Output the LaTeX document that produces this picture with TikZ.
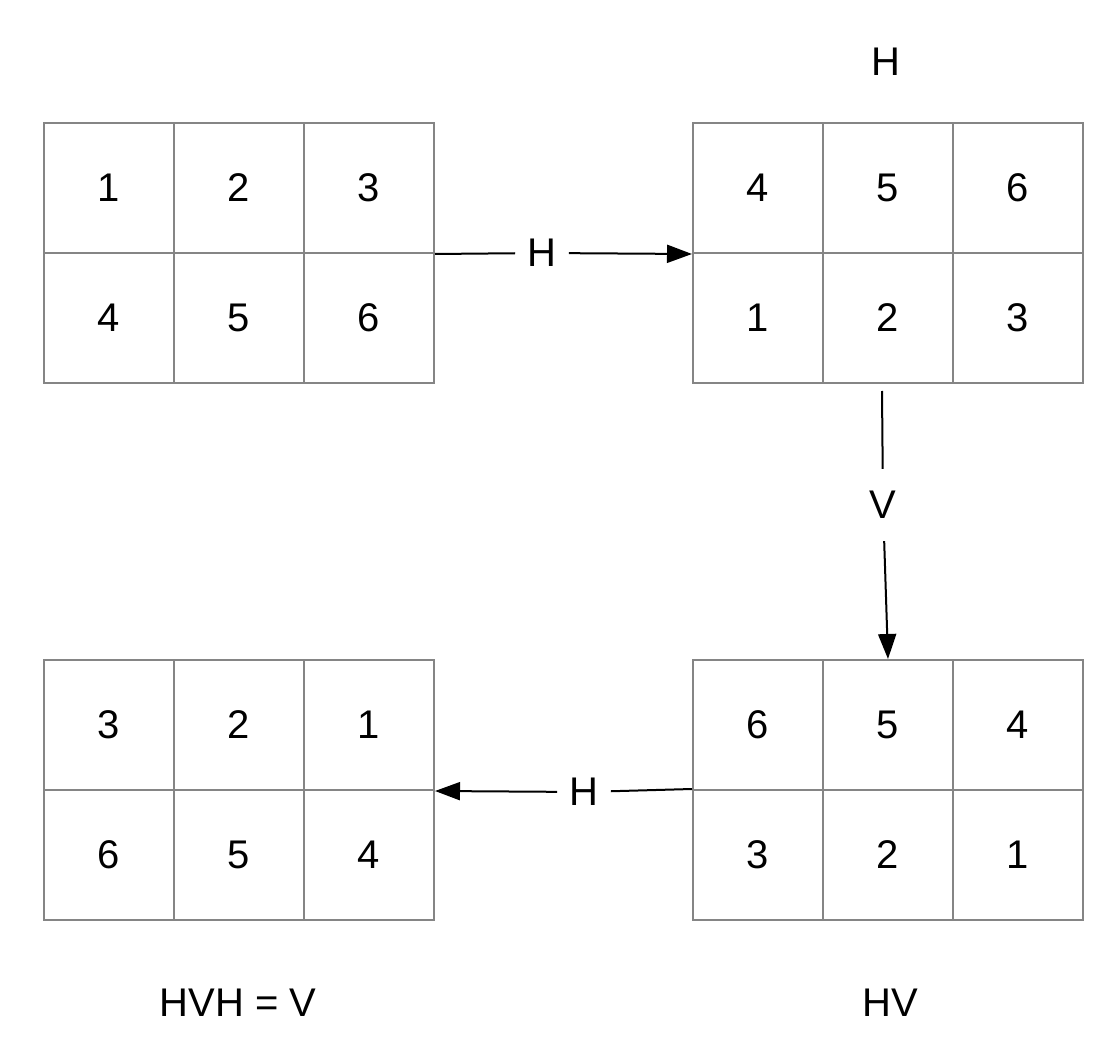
\documentclass[tikz,border=0pt]{standalone}
\usepackage{fontspec}
\setmainfont{Liberation Sans}
\usetikzlibrary{arrows.meta}
\definecolor{gridgray}{HTML}{858585}

\tikzset{
	cell/.style={draw=gridgray, line width=1pt, minimum width=65pt, minimum height=65pt, inner sep=0pt, font=\fontsize{20}{24}\selectfont},
	lbl/.style={inner sep=6pt, font=\fontsize{20}{24}\selectfont},
	conn/.style={line width=1pt},
	tip/.style={conn, -{Triangle[length=12.5pt,width=9pt]}}
}

\begin{document}
\begin{tikzpicture}[x=0.5pt,y=-0.5pt]
		\useasboundingbox (0,0) rectangle (1118,1058);
		% the four grids
		\foreach \g/\x/\y/\a/\b/\c/\d/\e/\f in {A/44/123/1/2/3/4/5/6, B/693/123/4/5/6/1/2/3, C/44/660/3/2/1/6/5/4, D/693/660/6/5/4/3/2/1}{
			\node[cell] (\g1) at (\x+65,\y+65) {\a};
			\node[cell] (\g2) at (\x+195,\y+65) {\b};
			\node[cell] (\g3) at (\x+325,\y+65) {\c};
			\node[cell] (\g4) at (\x+65,\y+195) {\d};
			\node[cell] (\g5) at (\x+195,\y+195) {\e};
			\node[cell] (\g6) at (\x+325,\y+195) {\f};
		}
		% titles
		\node[lbl] (tB) at (886,62) {H};
		\node[lbl] (tD) at (890,1003) {HV};
		\node[lbl] (tC) at (238,1003) {HVH = V};
		% H: A -> B
		\node[lbl] (hAB) at (542,253) {H};
		\draw[conn] (A3.south east) -- (hAB);
		\draw[tip] (hAB) -- (B1.south west);
		% V: B -> D
		\coordinate (vTop) at (882,391);
		\node[lbl, inner ysep=11pt] (vBD) at (883,505) {V};
		\draw[conn] (vTop) -- (vBD);
		\draw[tip] (vBD) -- (D2.north);
		% H: D -> C
		\node[lbl] (hDC) at (584,792) {H};
		\draw[conn] (D4.north west) -- (hDC);
		\draw[tip] (hDC) -- (C3.south east);
	\end{tikzpicture}
\end{document}
